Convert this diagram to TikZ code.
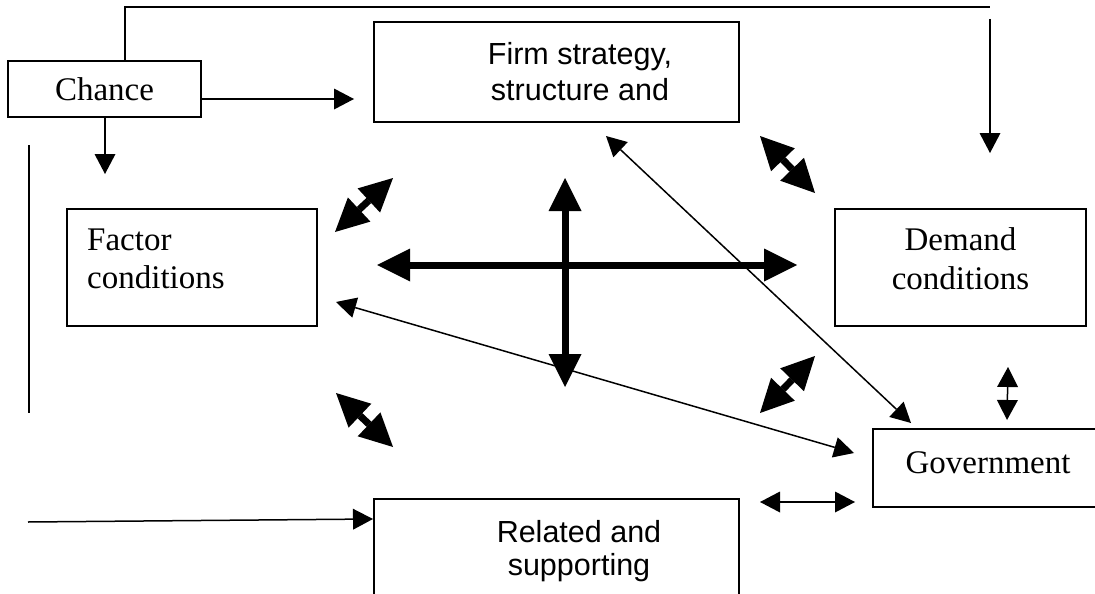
\documentclass[tikz,border=0pt]{standalone}
\usepackage{fontspec}
\setmainfont{Liberation Serif}
\newfontfamily\sansf{Liberation Sans}
\usetikzlibrary{arrows.meta}
\tikzset{
  smalltip/.tip={Triangle[length=20pt,width=21pt,line width=0pt]},
  bigtip/.tip={Triangle[length=33pt,width=33pt,line width=0pt]},
}
\begin{document}
\begin{tikzpicture}[x=1pt,y=-1pt,
  box/.style={draw, line width=1.5pt, inner sep=0pt},
  serif/.style={font=\fontsize{33}{38}\selectfont, inner sep=0pt},
  sans/.style={font=\sansf\fontsize{30.5}{35}\selectfont, inner sep=0pt},
  thinline/.style={line width=1.5pt},
  arr/.style={thinline, -smalltip},
  darr/.style={thinline, smalltip-smalltip},
  fat/.style={line width=7pt, bigtip-bigtip}]
\useasboundingbox (0,0) rectangle (1095,594);
\clip (0,0) rectangle (1095,594);
% boxes
\node[box, minimum width=193pt, minimum height=56pt] (chance) at (104.5,89) {};
\node[box, minimum width=365pt, minimum height=100pt] (firm) at (556.5,72) {};
\node[box, minimum width=250pt, minimum height=117pt] (factor) at (192,267.5) {};
\node[box, minimum width=251pt, minimum height=117pt] (demand) at (960.5,267.5) {};
\node[box, minimum width=240pt, minimum height=78pt] (gov) at (993,468) {};
\node[box, minimum width=365pt, minimum height=111pt] (related) at (556.5,554.5) {};
% texts
\node[serif, anchor=base] (chancet) at (104.5,100) {Chance};
\node[sans, anchor=base] (firmt1) at (580,64) {Firm strategy,};
\node[sans, anchor=base] (firmt2) at (580,100) {structure and};
\node[serif, anchor=base west] (factort1) at (87,250) {Factor};
\node[serif, anchor=base west] (factort2) at (87,288) {conditions};
\node[serif, anchor=base] (demandt1) at (960.5,250) {Demand};
\node[serif, anchor=base] (demandt2) at (960.5,289) {conditions};
\node[serif, anchor=base] (govt) at (988,473) {Government};
\node[sans, anchor=base] (relt1) at (579,542) {Related and};
\node[sans, anchor=base] (relt2) at (579,575) {supporting};
% coordinates
\coordinate (cf) at (354,99);
\coordinate (cd) at (105,174);
\coordinate (ctop) at (125,7);
\coordinate (ctopr) at (990,7);
\coordinate (ra) at (990,19);
\coordinate (rb) at (990,153);
\coordinate (la) at (29,145);
\coordinate (lb) at (29,413);
\coordinate (ba) at (28,522);
\coordinate (bb) at (373,519);
\coordinate (hl) at (377,265);
\coordinate (hr) at (797,265);
\coordinate (vt) at (565,178);
\coordinate (vb) at (565,387);
\coordinate (tl1) at (335,232);
\coordinate (tl2) at (393,178);
\coordinate (tr1) at (760,136);
\coordinate (tr2) at (815,193);
\coordinate (br1) at (760,413);
\coordinate (br2) at (815,356);
\coordinate (bl1) at (336,393);
\coordinate (bl2) at (393,447);
\coordinate (fg1) at (606,136);
\coordinate (fg2) at (911,423);
\coordinate (xg1) at (336,302);
\coordinate (xg2) at (854,453);
\coordinate (dg1) at (1008,367);
\coordinate (dg2) at (1007,420);
\coordinate (rg1) at (760,502);
\coordinate (rg2) at (855,502);
% connectors
\draw[arr] (chance.east |- cf) -- (cf);
\draw[arr] (chance.south -| cd) -- (cd);
\draw[thinline] (chance.north -| ctop) -- (ctop) -- (ctopr);
\draw[arr] (ra) -- (rb);
\draw[thinline] (la) -- (lb);
\draw[arr] (ba) -- (bb);
\draw[fat] (hl) -- (hr);
\draw[fat] (vt) -- (vb);
\draw[fat] (tl1) -- (tl2);
\draw[fat] (tr1) -- (tr2);
\draw[fat] (br1) -- (br2);
\draw[fat] (bl1) -- (bl2);
\draw[darr] (fg1) -- (fg2);
\draw[darr] (xg1) -- (xg2);
\draw[darr] (dg1) -- (dg2);
\draw[darr] (rg1) -- (rg2);
\end{tikzpicture}
\end{document}
